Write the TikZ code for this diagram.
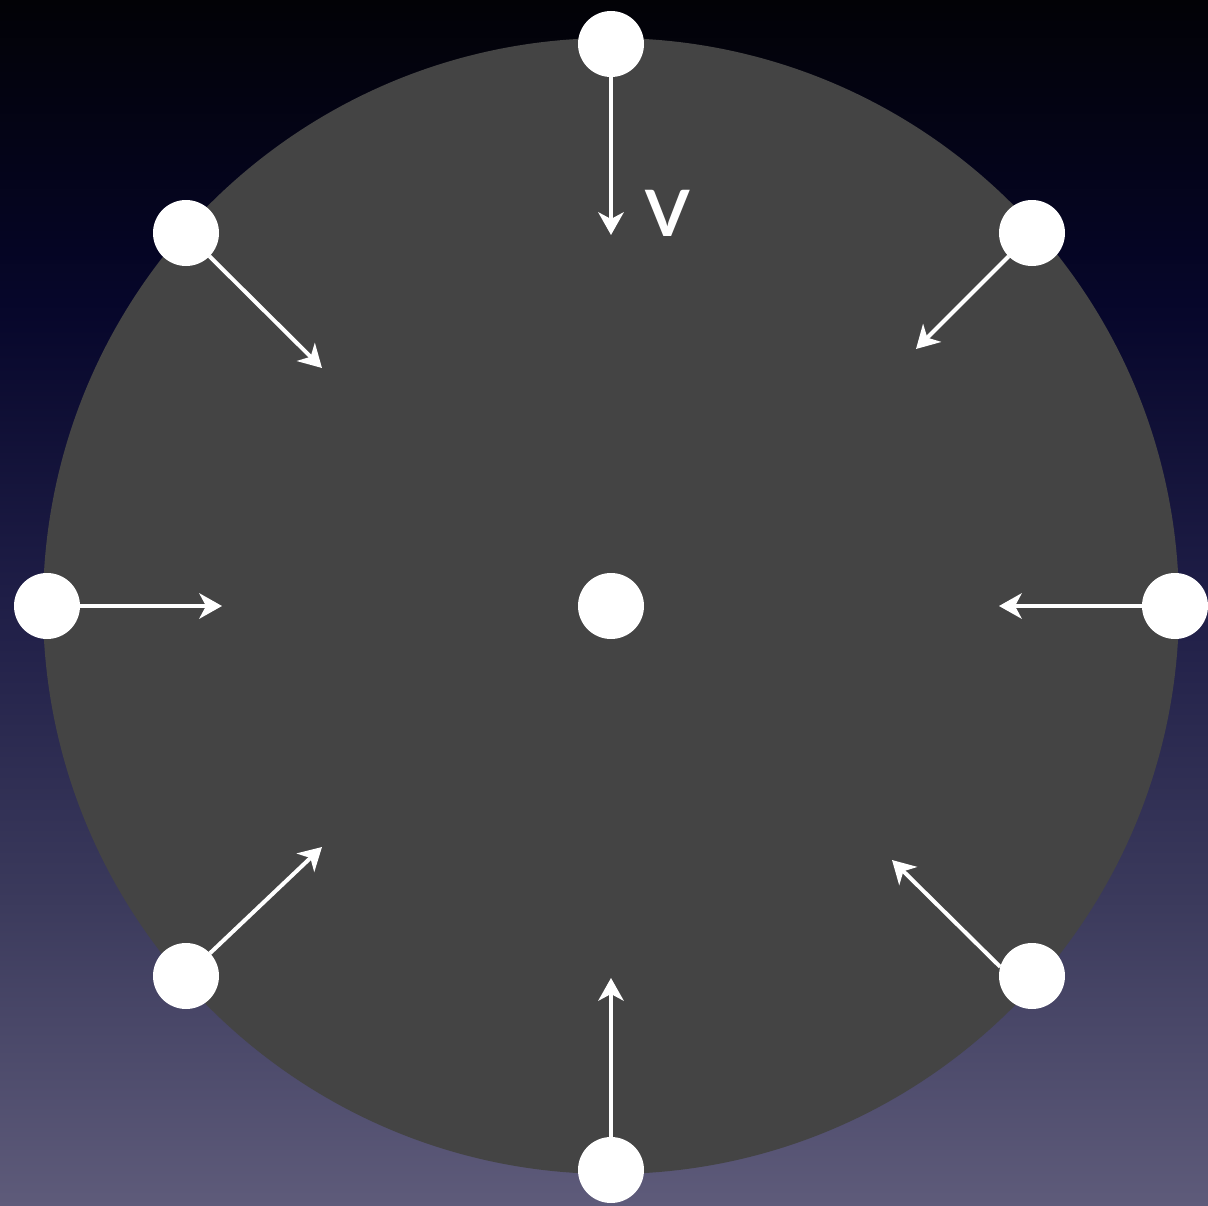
\documentclass[tikz,border=0pt]{standalone}
\usepackage{fontspec}
\setsansfont{Lato}
\usetikzlibrary{arrows.meta}
\definecolor{c0}{HTML}{5E5B7A}
\definecolor{c1}{HTML}{3B3A5C}
\definecolor{c2}{HTML}{1F1E47}
\definecolor{c3}{HTML}{06062A}
\definecolor{c4}{HTML}{020206}
\definecolor{disk}{HTML}{444444}
\pgfdeclareverticalshading{bgshade}{100bp}{color(0bp)=(c0); color(25bp)=(c0); color(37.7bp)=(c1); color(50bp)=(c2); color(62.5bp)=(c3); color(75bp)=(c4); color(100bp)=(c4)}
\tikzset{
  dot/.style={circle,fill=white,minimum size=49.5pt,inner sep=0pt,outer sep=0pt},
  vec/.style={draw=white,line width=3pt,-{Stealth[length=17pt,width=19pt,inset=5pt]}},
}
\begin{document}
\begin{tikzpicture}[x=0.75pt,y=-0.75pt]
\useasboundingbox (0,0) rectangle (1208,1206);
\shade[shading=bgshade] (0,0) rectangle (1208,1206);
\fill[disk] (611,606) circle[radius=568];
% arrow tips
\coordinate (tE) at (611,235);
\coordinate (tlE) at (322,368);
\coordinate (trE) at (916,349);
\coordinate (lE) at (222,606);
\coordinate (rE) at (999,606);
\coordinate (blE) at (322,847);
\coordinate (brE) at (892,860);
\coordinate (bE) at (611,978);
% dots
\node[dot] (t) at (611,44) {};
\node[dot] (tl) at (186,233) {};
\node[dot] (tr) at (1032,233) {};
\node[dot] (l) at (47,606) {};
\node[dot] (r) at (1175,606) {};
\node[dot] (bl) at (186,976) {};
\node[dot] (br) at (1032,976) {};
\node[dot] (b) at (611,1170) {};
\node[dot] (c) at (611,606) {};
% arrows
\draw[vec] (t) -- (tE);
\draw[vec] (tl) -- (tlE);
\draw[vec] (tr) -- (trE);
\draw[vec] (l) -- (lE);
\draw[vec] (r) -- (rE);
\draw[vec] (bl) -- (blE);
\draw[vec] (br.164) -- (brE);
\draw[vec] (b) -- (bE);
\node[text=white,font=\sffamily\bfseries\fontsize{48pt}{48pt}\selectfont,inner sep=0pt] (v) at (668,213) {V};
\end{tikzpicture}
\end{document}
